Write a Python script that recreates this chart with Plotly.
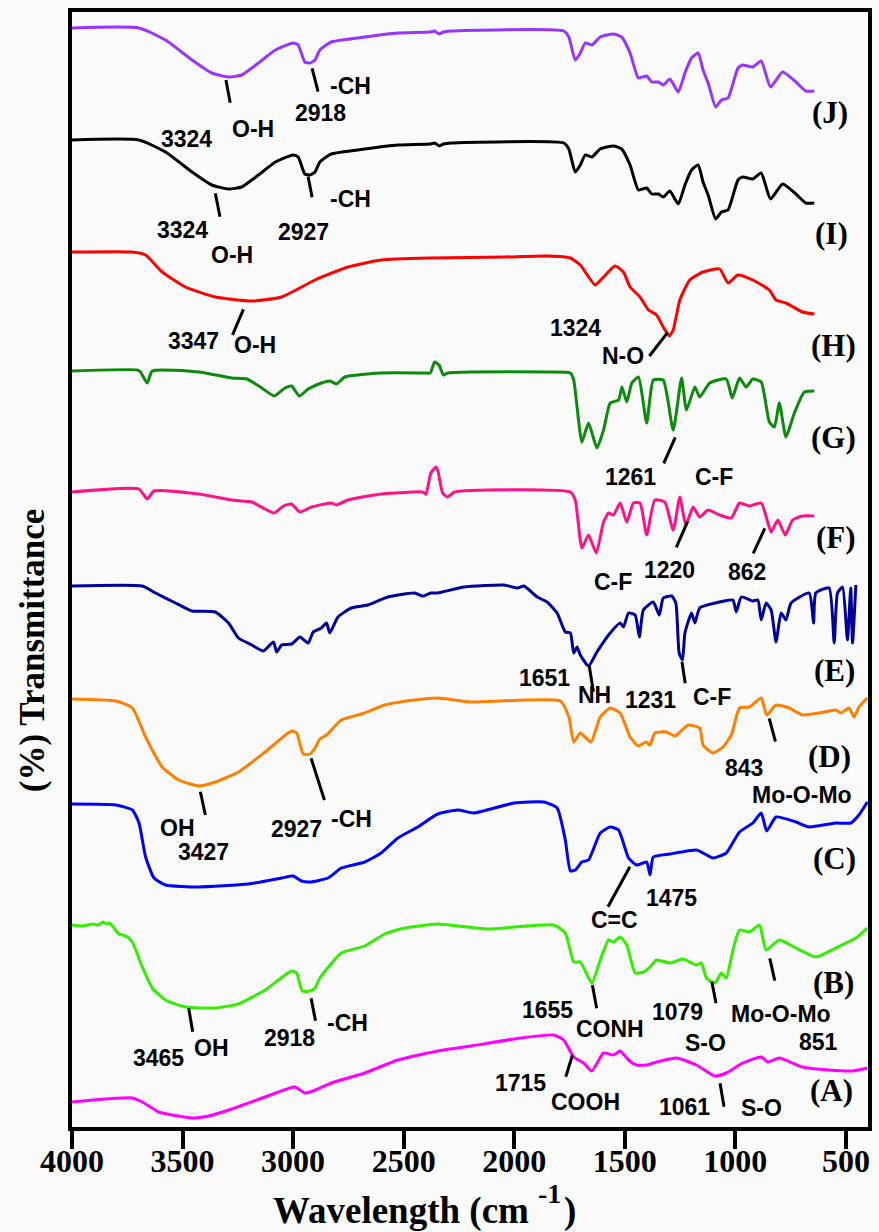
import plotly.graph_objects as go

# ---------------- data (wavenumber, cm-1 / stacked transmittance, arb. units) ----------------
J_WN = [4000, 3697, 3577, 3457, 3368, 3292, 3233, 3157, 3080, 3000, 2977, 2947, 2924, 2901, 2879, 2828,
        2676, 2526, 2378, 2360, 2340, 2320, 2288, 1776, 1753, 1724, 1701, 1679, 1649, 1611, 1551, 1514,
        1476, 1438, 1401, 1378, 1348, 1326, 1296, 1258, 1228, 1198, 1168, 1146, 1123, 1089, 1063, 1033,
        988, 966, 921, 883, 841, 786, 726, 681, 643]
J_T = [1099, 1099, 1087, 1067, 1054, 1050, 1052, 1064, 1077, 1084, 1082, 1065, 1064, 1067, 1077, 1085,
       1090, 1094, 1095, 1096, 1093, 1095, 1096, 1096, 1090, 1067, 1074, 1084, 1082, 1090, 1093, 1090,
       1074, 1049, 1051, 1045, 1045, 1042, 1048, 1035, 1054, 1069, 1074, 1057, 1044, 1020, 1027, 1029,
       1059, 1062, 1060, 1066, 1040, 1055, 1045, 1036, 1036]

I_WN = [4000, 3697, 3577, 3457, 3368, 3292, 3233, 3157, 3080, 3000, 2977, 2947, 2924, 2901, 2879, 2828,
        2676, 2526, 2378, 2360, 2340, 2320, 2288, 1776, 1753, 1724, 1701, 1679, 1649, 1611, 1551, 1514,
        1476, 1438, 1401, 1378, 1348, 1326, 1296, 1258, 1228, 1198, 1168, 1146, 1123, 1089, 1063, 1033,
        988, 966, 921, 883, 841, 786, 726, 681, 643]
I_T = [987, 987, 975, 955, 942, 938, 940, 952, 965, 972, 970, 953, 952, 955, 965, 973,
       978, 982, 983, 984, 981, 983, 984, 984, 978, 955, 962, 972, 970, 978, 981, 978,
       962, 937, 939, 933, 933, 930, 936, 923, 942, 957, 962, 945, 932, 908, 915, 917,
       947, 950, 948, 954, 928, 943, 933, 924, 924]

H_WN = [4000, 3727, 3667, 3592, 3487, 3352, 3187, 3052, 2901, 2752, 2602, 2377, 2046, 1851, 1746, 1701,
        1634, 1596, 1544, 1506, 1476, 1431, 1393, 1356, 1326, 1299, 1281, 1251, 1206, 1146, 1071, 1033,
        988, 921, 846, 816, 771, 696, 643]
H_T = [875, 875, 872, 855, 840, 830, 826, 830, 847, 860, 867, 869, 870, 871, 869, 862,
       842, 850, 861, 855, 840, 830, 817, 812, 800, 791, 797, 827, 847, 855, 858, 844,
       852, 847, 837, 827, 824, 815, 813]

G_WN = [4000, 3705, 3690, 3660, 3637, 3427, 3277, 3209, 3142, 3085, 3037, 3007, 2972, 2932, 2872, 2834,
        2804, 2766, 2602, 2406, 2380, 2360, 2340, 2320, 2300, 2196, 1836, 1746, 1731, 1694, 1664, 1626,
        1596, 1566, 1528, 1513, 1491, 1468, 1438, 1401, 1371, 1326, 1281, 1243, 1221, 1183, 1161, 1116,
        1041, 1014, 981, 951, 921, 883, 846, 823, 801, 771, 733, 688, 643]
G_T = [756, 757, 755, 744, 756, 755, 749, 748, 739, 731, 739, 741, 731, 738, 744, 746,
       743, 750, 754, 754, 754, 765, 762, 752, 754, 755, 755, 754, 747, 685, 704, 679,
       697, 724, 727, 740, 725, 744, 750, 704, 747, 747, 697, 749, 717, 740, 730, 744,
       748, 729, 749, 740, 748, 745, 705, 700, 724, 690, 714, 735, 736]

F_WN = [4000, 3697, 3660, 3629, 3427, 3277, 3187, 3127, 3085, 3044, 3007, 2969, 2917, 2827, 2804, 2752,
        2602, 2414, 2399, 2377, 2354, 2346, 2324, 2301, 2271, 1746, 1724, 1694, 1664, 1629, 1596, 1573,
        1551, 1521, 1491, 1461, 1431, 1401, 1364, 1319, 1281, 1251, 1224, 1191, 1161, 1123, 1071, 1018,
        981, 936, 883, 838, 808, 774, 741, 696, 643]
F_T = [635, 638, 628, 636, 633, 627, 625, 618, 614, 621, 623, 615, 620, 624, 622, 627,
       633, 635, 633, 654, 660, 657, 634, 630, 635, 635, 627, 579, 592, 574, 605, 614,
       612, 624, 605, 624, 624, 592, 627, 625, 597, 630, 602, 620, 610, 617, 612, 609,
       624, 621, 624, 595, 607, 592, 607, 611, 611]

E_WN = [4000, 3682, 3622, 3532, 3457, 3352, 3292, 3247, 3187, 3134,
        3089, 3074, 3052, 3007, 2969, 2932, 2909, 2872, 2849, 2834,
        2797, 2737, 2662, 2572, 2451, 2414, 2377, 2346, 2226, 2046,
        1986, 1956, 1896, 1851, 1806, 1769, 1746, 1731, 1716, 1701,
        1664, 1626, 1566, 1521, 1506, 1483, 1453, 1434, 1416, 1371,
        1344, 1326, 1288, 1269, 1254, 1239, 1228, 1198, 1183, 1161,
        1071, 1011, 996, 973, 921, 898, 883, 861, 838, 816,
        793, 771, 748, 666, 646, 636, 576, 553, 538, 515,
        493, 478, 470, 455]
E_T = [541, 541, 534, 524, 516, 515, 504, 489, 482, 476,
       485, 475, 482, 483, 490, 484, 495, 499, 504, 494,
       510, 519, 522, 530, 534, 531, 534, 534, 540, 542,
       539, 541, 530, 525, 514, 495, 494, 474, 480, 472,
       461, 475, 494, 504, 500, 514, 512, 490, 517, 525,
       512, 529, 531, 524, 474, 467, 494, 514, 504, 519,
       525, 527, 515, 530, 526, 527, 507, 524, 517, 485,
       514, 507, 524, 534, 504, 534, 539, 484, 534, 540,
       487, 539, 484, 542]

D_WN = [4000, 3802, 3727, 3667, 3592, 3517, 3427, 3352, 3247, 3127,
        3007, 2984, 2954, 2924, 2901, 2879, 2849, 2782, 2676, 2586,
        2451, 2346, 2196, 1791, 1753, 1731, 1701, 1653, 1611, 1566,
        1521, 1476, 1438, 1404, 1386, 1364, 1311, 1273, 1213, 1161,
        1146, 1101, 1056, 1018, 981, 936, 883, 858, 816, 756,
        696, 621, 546, 523, 486, 463, 441, 403]
D_T = [428, 426, 419, 390, 360, 347, 341, 345, 355, 375,
       396, 394, 373, 373, 379, 388, 392, 407, 414, 422,
       427, 429, 425, 426, 410, 385, 394, 385, 410, 419,
       414, 390, 381, 385, 382, 394, 395, 391, 402, 399,
       382, 374, 380, 392, 419, 420, 429, 412, 422, 419,
       412, 414, 417, 414, 419, 410, 420, 429]

C_WN = [4000, 3802, 3727, 3697, 3667, 3629, 3577, 3427, 3202, 3052,
        3000, 2962, 2924, 2842, 2782, 2676, 2602, 2526, 2436, 2346,
        2256, 2181, 2001, 1866, 1806, 1769, 1746, 1724, 1694, 1664,
        1611, 1566, 1528, 1483, 1446, 1401, 1386, 1371, 1296, 1176,
        1146, 1101, 1041, 981, 921, 883, 858, 816, 726, 666,
        546, 478, 441, 403]
C_T = [323, 322, 317, 304, 270, 249, 242, 240, 243, 249,
       251, 246, 245, 249, 259, 265, 274, 289, 300, 313,
       317, 314, 324, 325, 319, 287, 256, 257, 265, 267,
       294, 300, 297, 269, 262, 265, 252, 270, 273, 277,
       274, 269, 274, 295, 304, 314, 296, 310, 305, 300,
       304, 304, 312, 325]

B_WN = [4000, 3950, 3907, 3880, 3860, 3845, 3830, 3810, 3787, 3770,
        3750, 3727, 3682, 3637, 3577, 3487, 3352, 3247, 3127, 3007,
        2984, 2959, 2924, 2901, 2879, 2782, 2676, 2586, 2496, 2346,
        2121, 1821, 1769, 1731, 1701, 1649, 1611, 1573, 1551, 1521,
        1491, 1453, 1416, 1386, 1356, 1296, 1236, 1176, 1153, 1131,
        1093, 1063, 1041, 1011, 981, 936, 891, 861, 801, 726,
        636, 546, 455, 403]
B_T = [202, 201, 203, 202, 205, 203, 204, 199, 193, 192,
       190, 185, 160, 139, 127, 120, 119, 123, 137, 156,
       154, 136, 136, 139, 149, 174, 181, 193, 199, 203,
       198, 202, 194, 165, 165, 144, 167, 187, 185, 190,
       182, 154, 155, 160, 167, 164, 168, 162, 164, 149,
       144, 154, 149, 177, 197, 195, 202, 177, 187, 179,
       170, 179, 189, 199]

A_WN = [4000, 3727, 3682, 3607, 3457, 3382, 3277, 3127, 2992, 2947,
        2909, 2827, 2676, 2526, 2346, 2196, 1971, 1821, 1776, 1731,
        1686, 1649, 1596, 1551, 1521, 1483, 1446, 1401, 1356, 1266,
        1176, 1093, 1041, 966, 883, 853, 801, 696, 576, 470, 403]
A_T = [25, 29, 25, 15, 9, 11, 18, 30, 40, 34,
       36, 44, 54, 67, 76, 81, 89, 92, 87, 70,
       64, 56, 74, 72, 76, 67, 62, 62, 65, 69,
       62, 51, 54, 64, 70, 65, 69, 60, 57, 56, 59]

SERIES_NAMES = ["(A)", "(B)", "(C)", "(D)", "(E)", "(F)", "(G)", "(H)", "(I)", "(J)"]
SERIES_COLORS = ["#FF00FF", "#33EE00", "#0000FF", "#FF8000", "#00009A",
                 "#FF1188", "#0B8A0B", "#FF0000", "#000000", "#9933FF"]
SERIES_X = [A_WN, B_WN, C_WN, D_WN, E_WN, F_WN, G_WN, H_WN, I_WN, J_WN]
SERIES_Y = [A_T, B_T, C_T, D_T, E_T, F_T, G_T, H_T, I_T, J_T]

X_TICKS = [4000, 3500, 3000, 2500, 2000, 1500, 1000, 500]

# peak labels: (text, x px, y px) and leader lines (x0, y0, x1, y1) in page pixels
PEAK_TEXT = [
    ("O-H", 254, 129), ("3324", 187, 139), ("-CH", 352, 86), ("2918", 322, 113),
    ("3324", 183, 230), ("O-H", 233, 255), ("-CH", 352, 199), ("2927", 305, 232),
    ("3347", 194, 341), ("O-H", 256, 345), ("1324", 578, 328), ("N-O", 626, 356),
    ("1261", 633, 477), ("C-F", 717, 477),
    ("1220", 672, 570), ("C-F", 616, 582), ("862", 750, 572),
    ("1651", 547, 678), ("NH", 597, 695), ("1231", 653, 700), ("C-F", 715, 697),
    ("OH", 178, 828), ("3427", 204, 852), ("2927", 298, 829), ("-CH", 353, 819),
    ("843", 747, 768), ("Mo-O-Mo", 806, 795),
    ("1475", 675, 898), ("C=C", 617, 920),
    ("3465", 159, 1058), ("OH", 212, 1048), ("2918", 291, 1038), ("-CH", 349, 1023),
    ("1655", 550, 1010), ("CONH", 613, 1029), ("1079", 681, 1012), ("S-O", 709, 1043),
    ("Mo-O-Mo", 785, 1014), ("851", 822, 1042),
    ("1715", 523, 1083), ("COOH", 588, 1102), ("1061", 688, 1107), ("S-O", 765, 1108),
]
SERIES_LABEL_POS = [(835, 1090), (837, 982), (838, 858), (833, 756), (838, 670),
                    (840, 537), (837, 437), (837, 345), (835, 233), (834, 112)]
LEADERS = [
    (226.7, 80, 231, 102.7), (313.3, 68.3, 319.3, 91.7),
    (216, 193.3, 220.7, 216.7), (309.3, 176.7, 313.3, 197.3),
    (244.3, 309.3, 233.3, 335), (670.7, 332.3, 652.3, 356),
    (678.3, 437.3, 666.7, 463.3),
    (690.7, 521.7, 679.3, 547.3), (768.3, 528.3, 756.7, 553.3),
    (591.7, 665, 596, 691.7), (685, 661.7, 688.3, 683.3),
    (201, 791.7, 206, 815), (312.3, 758.3, 325.7, 800), (772.7, 718.3, 779, 741.7),
    (632.7, 866.7, 610.7, 906.7),
    (189.3, 1008.3, 193.3, 1031.7), (312.3, 998.3, 316.7, 1020.7), (595, 985, 599.3, 1008.3),
    (715, 981.7, 719.3, 1003.3), (773.3, 958.3, 778.3, 980.7),
    (575, 1055, 568.3, 1076.7), (723.3, 1083.3, 727.3, 1106.7),
]

# ---------------- layout geometry ----------------
W, H = 879, 1232
PL, PR, PT, PB = 72, 872, 12, 1127


def xp(px):
    return (px - PL) / (PR - PL)


def yp(py):
    return (PB - py) / (PB - PT)


SANS = "Liberation Sans, Arial, sans-serif"
SERIF = "Liberation Serif, Times New Roman, serif"

fig = go.Figure()
for xs, ys, col in zip(SERIES_X, SERIES_Y, SERIES_COLORS):
    assert len(xs) == len(ys), (len(xs), len(ys))
    fig.add_trace(go.Scatter(x=xs, y=ys, mode="lines",
                             line=dict(color=col, width=3, shape="spline", smoothing=0.5),
                             showlegend=False, hoverinfo="skip"))

annotations = []
for txt, px, py in PEAK_TEXT:
    annotations.append(dict(text=txt, x=xp(px), y=yp(py), xref="paper", yref="paper",
                            showarrow=False, xanchor="center", yanchor="middle",
                            font=dict(family=SANS, size=23, color="black", weight="bold")))
for name, (px, py) in zip(SERIES_NAMES, SERIES_LABEL_POS):
    annotations.append(dict(text=name, x=xp(px), y=yp(py), xref="paper", yref="paper",
                            showarrow=False, xanchor="center", yanchor="middle",
                            font=dict(family=SERIF, size=31, color="black", weight="bold")))

# axis titles
annotations.append(dict(text="Wavelength (cm", x=xp(533), y=yp(1211), xref="paper", yref="paper",
                        showarrow=False, xanchor="right", yanchor="middle",
                        font=dict(family=SERIF, size=37, color="black", weight="bold")))
annotations.append(dict(text="-1", x=xp(552), y=yp(1193), xref="paper", yref="paper",
                        showarrow=False, xanchor="center", yanchor="middle",
                        font=dict(family=SERIF, size=28, color="black", weight="bold")))
annotations.append(dict(text=")", x=xp(572), y=yp(1211), xref="paper", yref="paper",
                        showarrow=False, xanchor="center", yanchor="middle",
                        font=dict(family=SERIF, size=37, color="black", weight="bold")))
annotations.append(dict(text="(%) Transmittance", x=xp(33), y=yp(650), xref="paper", yref="paper",
                        showarrow=False, xanchor="center", yanchor="middle", textangle=-90,
                        font=dict(family=SERIF, size=35, color="black", weight="bold")))

shapes = []
for x0, y0, x1, y1 in LEADERS:
    shapes.append(dict(type="line", xref="paper", yref="paper",
                       x0=xp(x0), y0=yp(y0), x1=xp(x1), y1=yp(y1),
                       line=dict(color="black", width=3)))

fig.update_layout(
    width=W, height=H,
    margin=dict(l=PL, r=W - PR, t=PT, b=H - PB, pad=0),
    paper_bgcolor="#FAFAFA", plot_bgcolor="#FAFAFA",
    annotations=annotations, shapes=shapes,
    showlegend=False,
)
fig.update_xaxes(range=[4000, 400], tickmode="array", tickvals=X_TICKS,
                 ticktext=[str(v) for v in X_TICKS],
                 ticks="outside", ticklen=18, tickwidth=3.5, tickcolor="black",
                 ticklabelstandoff=-15,
                 showline=True, linewidth=3.5, linecolor="black", mirror=True,
                 showgrid=False, zeroline=False,
                 tickfont=dict(family=SERIF, size=32, color="black", weight="bold"))
fig.update_yaxes(range=[0, PB - PT], showticklabels=False, ticks="",
                 showline=True, linewidth=3.5, linecolor="black", mirror=True,
                 showgrid=False, zeroline=False)

fig.write_html("out.html")
